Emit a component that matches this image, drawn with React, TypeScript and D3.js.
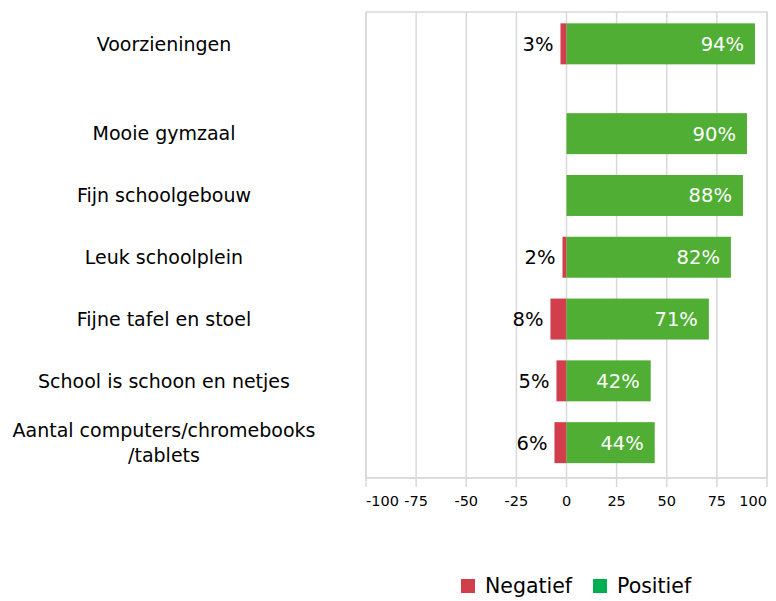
import React, { useEffect, useRef } from 'react';
import * as d3 from 'd3';

// Data
const categories = [
  'Voorzieningen',
  'Mooie gymzaal',
  'Fijn schoolgebouw',
  'Leuk schoolplein',
  'Fijne tafel en stoel',
  'School is schoon en netjes',
  'Aantal computers/chromebooks\n/tablets',
];
const negatief = [3, 0, 0, 2, 8, 5, 6];
const positief = [94, 90, 88, 82, 71, 42, 44];
const xTicks = [-100, -75, -50, -25, 0, 25, 50, 75, 100];
const seriesNames = ['Negatief', 'Positief'];

const App = () => {
  const svgRef = useRef<SVGSVGElement | null>(null);

  useEffect(() => {
    if (!svgRef.current) return;
    const svg = d3.select(svgRef.current);
    svg.selectAll('*').remove();

    const width = 776;
    const height = 601;
    const plotLeft = 366;
    const plotRight = 767;
    const plotTop = 12;
    const plotBottom = 478;
    const headerShift = 28; // first row sits closer to the top
    const font = '"DejaVu Sans", Verdana, sans-serif';
    const red = '#d13e4c';
    const green = '#4fae33';
    const legendGreen = '#00b050';
    const grid = '#d9d9d9';

    svg.attr('width', width).attr('height', height);

    const x = d3.scaleLinear().domain([-100, 100]).range([plotLeft, plotRight]);
    const y = d3.scaleBand<string>()
      .domain(categories)
      .range([plotTop + 27, plotBottom - 2.5])
      .paddingInner(0.337)
      .paddingOuter(0.2);
    const rowY = (c: string, i: number) => (y(c) as number) - (i === 0 ? headerShift : 0);

    // Plot frame and gridlines
    svg.append('rect')
      .attr('x', plotLeft)
      .attr('y', plotTop)
      .attr('width', plotRight - plotLeft)
      .attr('height', plotBottom - plotTop)
      .attr('fill', 'none')
      .attr('stroke', grid)
      .attr('stroke-width', 1.5);

    svg.append('g')
      .selectAll('line')
      .data(xTicks)
      .enter()
      .append('line')
      .attr('x1', d => x(d))
      .attr('x2', d => x(d))
      .attr('y1', plotTop)
      .attr('y2', plotBottom)
      .attr('stroke', grid)
      .attr('stroke-width', 1.5);

    // X axis
    const axis = svg.append('g').attr('transform', `translate(0,${plotBottom})`);
    axis.append('line')
      .attr('x1', plotLeft).attr('x2', plotRight)
      .attr('stroke', grid).attr('stroke-width', 1.5);
    axis.selectAll('line.tick')
      .data(xTicks)
      .enter()
      .append('line')
      .attr('class', 'tick')
      .attr('x1', d => x(d)).attr('x2', d => x(d))
      .attr('y1', 0).attr('y2', 9)
      .attr('stroke', grid).attr('stroke-width', 1.5);
    axis.selectAll('text')
      .data(xTicks)
      .enter()
      .append('text')
      .attr('x', d => x(d))
      .attr('y', 28)
      .attr('text-anchor', (d, i) => (i === 0 ? 'start' : i === xTicks.length - 1 ? 'end' : 'middle'))
      .attr('font-family', font)
      .attr('font-size', 14.5)
      .attr('fill', '#000')
      .text(d => d);

    // Bars
    const rows = categories.map((c, i) => ({ c, i, neg: negatief[i], pos: positief[i] }));

    const bars = svg.append('g');
    bars.selectAll('rect.neg')
      .data(rows.filter(r => r.neg > 0))
      .enter()
      .append('rect')
      .attr('class', 'neg')
      .attr('x', r => x(-r.neg))
      .attr('y', r => rowY(r.c, r.i))
      .attr('width', r => x(0) - x(-r.neg))
      .attr('height', y.bandwidth())
      .attr('fill', red);

    bars.selectAll('rect.pos')
      .data(rows)
      .enter()
      .append('rect')
      .attr('class', 'pos')
      .attr('x', x(0))
      .attr('y', r => rowY(r.c, r.i))
      .attr('width', r => x(r.pos) - x(0))
      .attr('height', y.bandwidth())
      .attr('fill', green);

    // Data labels
    bars.selectAll('text.neg')
      .data(rows.filter(r => r.neg > 0))
      .enter()
      .append('text')
      .attr('x', r => x(-r.neg) - 7)
      .attr('y', r => rowY(r.c, r.i) + y.bandwidth() / 2)
      .attr('dy', '0.36em')
      .attr('text-anchor', 'end')
      .attr('font-family', font)
      .attr('font-size', 19.5)
      .attr('fill', '#000')
      .text(r => `${r.neg}%`);

    bars.selectAll('text.pos')
      .data(rows)
      .enter()
      .append('text')
      .attr('x', r => x(r.pos) - 11)
      .attr('y', r => rowY(r.c, r.i) + y.bandwidth() / 2)
      .attr('dy', '0.36em')
      .attr('text-anchor', 'end')
      .attr('font-family', font)
      .attr('font-size', 19.5)
      .attr('fill', '#fff')
      .text(r => `${r.pos}%`);

    // Category labels
    const catG = svg.append('g');
    rows.forEach(r => {
      const lines = r.c.split('\n');
      const lineH = 25;
      const cy = rowY(r.c, r.i) + y.bandwidth() / 2;
      const t = catG.append('text')
        .attr('text-anchor', 'middle')
        .attr('font-family', font)
        .attr('font-size', 19)
        .attr('fill', '#000');
      lines.forEach((ln, k) => {
        t.append('tspan')
          .attr('x', 164)
          .attr('y', cy + (k - (lines.length - 1) / 2) * lineH)
          .attr('dy', '0.36em')
          .text(ln);
      });
    });

    // Legend
    const legendColors = [red, legendGreen];
    const legendX = [461, 593];
    const lg = svg.append('g');
    seriesNames.forEach((name, i) => {
      lg.append('rect')
        .attr('x', legendX[i])
        .attr('y', 579)
        .attr('width', 14)
        .attr('height', 14)
        .attr('fill', legendColors[i]);
      lg.append('text')
        .attr('x', legendX[i] + 24)
        .attr('y', 586)
        .attr('dy', '0.36em')
        .attr('font-family', font)
        .attr('font-size', 20.5)
        .attr('fill', '#000')
        .text(name);
    });
  }, []);

  return (
    <div style={{ position: 'absolute', left: 0, top: 0, width: 776, height: 601, background: '#fff' }}>
      <svg ref={svgRef} width="776" height="601"></svg>
    </div>
  );
};

export default App;
